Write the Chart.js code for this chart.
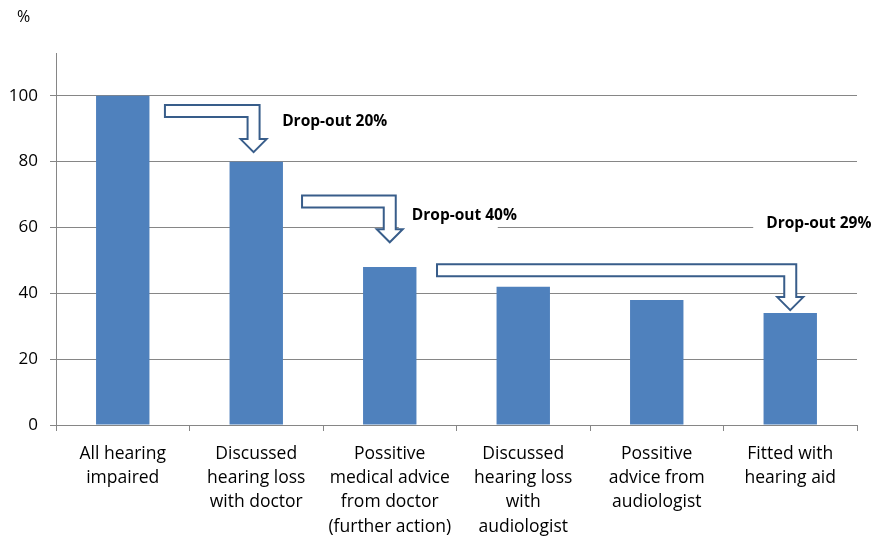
<!DOCTYPE html>
<html>
<head>
<meta charset="utf-8">
<script src="https://cdn.jsdelivr.net/npm/chart.js@4/dist/chart.umd.min.js"></script>
<style>
  html, body { margin: 0; padding: 0; background: #fff; }
  #wrap { width: 877px; height: 548px; }
</style>
</head>
<body>
<div id="wrap"><canvas id="funnelChart"></canvas></div>
<script>
const CATEGORIES = [
    ['All hearing', 'impaired'],
    ['Discussed', 'hearing loss', 'with doctor'],
    ['Possitive', 'medical advice', 'from doctor', '(further action)'],
    ['Discussed', 'hearing loss', 'with', 'audiologist'],
    ['Possitive', 'advice from', 'audiologist'],
    ['Fitted with', 'hearing aid']
];
const VALUES = [100, 80, 48, 42, 38, 34];
const Y_TICKS = [0, 20, 40, 60, 80, 100];
const Y_MAX = 113;

const DROP_LABELS = ['Drop-out 20%', 'Drop-out 40%', 'Drop-out 29%'];

// arrows in data units: start (category index), target bar, shaft level, tip level
const ARROWS = [
    { from: 0.316, to: 0.98, shaft: 95.4, tip: 82.9 },
    { from: 1.343, to: 2.0, shaft: 67.9, tip: 55.5 },
    { from: 2.354, to: 5.0, shaft: 47.0, tip: 34.9 }
];
// label anchors in data units (left edge, middle), mask = white box width behind
const LABEL_POS = [
    { x: 1.194, y: 92.2, mask: 0 },
    { x: 2.165, y: 63.6, mask: 99 },
    { x: 4.82, y: 61.3, mask: 110 }
];

const FONT = "'Open Sans', sans-serif";
const GRID = '#868686';
const BAR = '#4F81BD';
const OUTLINE = '#385D8A';

const annotations = {
    id: 'dropouts',
    afterDatasetsDraw(chart) {
        const { ctx, scales: { x, y } } = chart;
        ctx.save();

        // white boxes behind labels (hide grid line like the original text boxes)
        ctx.font = `bold 15.5px ${FONT}`;
        LABEL_POS.forEach((p, i) => {
            if (!p.mask) return;
            const lx = x.getPixelForValue(p.x);
            const ly = y.getPixelForValue(p.y);
            ctx.fillStyle = '#fff';
            ctx.fillRect(lx - 13, ly - 15, p.mask, 31);
        });

        const t = 12, hw = 13, hl = 13;
        ARROWS.forEach(a => {
            const x0 = x.getPixelForValue(a.from);
            const xt = x.getPixelForValue(a.to);
            const ys = y.getPixelForValue(a.shaft);
            const yt = y.getPixelForValue(a.tip);
            ctx.beginPath();
            ctx.moveTo(x0, ys - t / 2);
            ctx.lineTo(xt + t / 2, ys - t / 2);
            ctx.lineTo(xt + t / 2, yt - hl);
            ctx.lineTo(xt + hw, yt - hl);
            ctx.lineTo(xt, yt);
            ctx.lineTo(xt - hw, yt - hl);
            ctx.lineTo(xt - t / 2, yt - hl);
            ctx.lineTo(xt - t / 2, ys + t / 2);
            ctx.lineTo(x0, ys + t / 2);
            ctx.closePath();
            ctx.fillStyle = '#fff';
            ctx.fill();
            ctx.lineWidth = 2;
            ctx.strokeStyle = OUTLINE;
            ctx.stroke();
        });

        ctx.fillStyle = '#000';
        ctx.textBaseline = 'middle';
        ctx.textAlign = 'left';
        LABEL_POS.forEach((p, i) => {
            ctx.fillText(DROP_LABELS[i], x.getPixelForValue(p.x), y.getPixelForValue(p.y));
        });

        ctx.font = `16px ${FONT}`;
        ctx.fillText('%', 17, 17);
        ctx.restore();
    }
};

new Chart(document.getElementById('funnelChart'), {
    type: 'bar',
    data: {
        labels: CATEGORIES,
        datasets: [{
            data: VALUES,
            backgroundColor: BAR,
            borderWidth: 0,
            categoryPercentage: 1,
            barPercentage: 0.4
        }]
    },
    options: {
        responsive: true,
        maintainAspectRatio: false,
        animation: false,
        layout: { padding: { top: 53, right: 20, left: 0, bottom: 0 } },
        plugins: { legend: { display: false }, tooltip: { enabled: false } },
        scales: {
            x: {
                afterFit: s => { s.height = 123; },
                grid: { display: true, drawOnChartArea: false, color: GRID, tickLength: 6, offset: true },
                border: { color: GRID },
                ticks: {
                    color: '#000',
                    padding: 11,
                    maxRotation: 0,
                    autoSkip: false,
                    font: { family: FONT, size: 17.5, lineHeight: 1.38 }
                }
            },
            y: {
                min: 0,
                max: Y_MAX,
                afterFit: s => { s.width = 56; },
                afterBuildTicks: s => { s.ticks = Y_TICKS.map(v => ({ value: v })); },
                grid: { color: GRID, tickLength: 6 },
                border: { color: GRID },
                ticks: {
                    color: '#000',
                    padding: 12,
                    font: { family: FONT, size: 17 }
                }
            }
        }
    },
    plugins: [annotations]
});
</script>
</body>
</html>
